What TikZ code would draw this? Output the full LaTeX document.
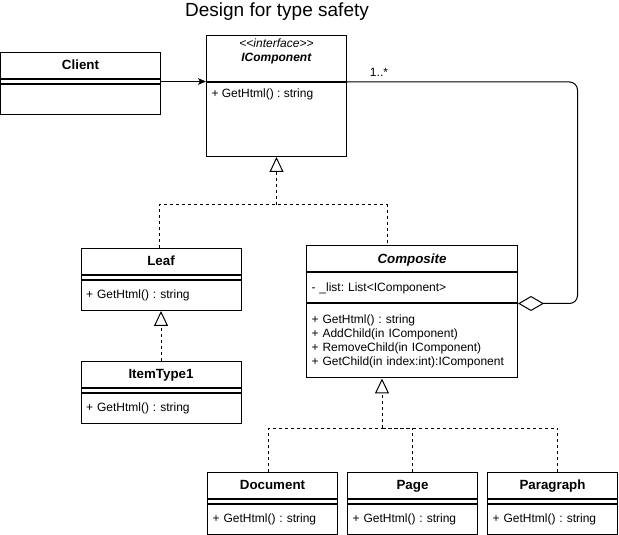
\documentclass[tikz,border=0pt]{standalone}
\usepackage{fontspec}
\setmainfont{Liberation Sans}
\usetikzlibrary{arrows.meta}
\newdimen\pxu \pxu=0.75pt
\frenchspacing

\begin{document}
\begin{tikzpicture}[x=\pxu,y=-\pxu,line width=\pxu,font=\fontsize{9}{10.5}\selectfont,
hd/.style={draw,anchor=north west,minimum width=#1\pxu,minimum height=26\pxu,inner sep=0pt,font=\bfseries,
  text height=7.5pt,text depth=1pt},
gp/.style={draw,anchor=north west,minimum width=#1\pxu,minimum height=4\pxu,inner sep=0pt},
bd/.style={draw,anchor=north west,minimum width=#1\pxu,minimum height=30\pxu,inner xsep=5\pxu,inner ysep=0pt,
  text width=(#1-10)*0.75pt,align=left},
dsh/.style={dash pattern=on 2.25pt off 2.25pt},
real/.style={dsh,-{Triangle[open,length=11.25pt,width=10.5pt]}},
agg/.style={rounded corners=6pt,-{Diamond[open,length=19.5pt,width=11.25pt]}}]
\useasboundingbox (0,0) rectangle (619,535);
\node[font=\fontsize{14.25}{16}\selectfont] (title) at (277,12) {Design for type safety};
\node[hd=160] (cln) at (0,52) {Client};
\node[gp=160] (clg) at (cln.south west) {};
\node[bd=160] (clb) at (clg.south west) {};
\node[draw,anchor=north west,minimum width=140\pxu,minimum height=46\pxu,inner sep=0pt] (icn) at (206,35) {};
\node[anchor=north,align=center,inner sep=0pt] (ict) at ([yshift=-3\pxu]icn.north)
  {\textit{<{}<interface>{}>}\\\textbf{\textit{IComponent}}};
\node[draw,anchor=north west,minimum width=140\pxu,minimum height=74\pxu,inner sep=0pt] (icb) at (icn.south west) {};
\node[anchor=north west,inner sep=0pt] (icm) at ([xshift=5\pxu,yshift=-6\pxu]icb.north west) {+ GetHtml() : string};
\node[hd=160] (lfn) at (80.5,248) {Leaf};
\node[gp=160] (lfg) at (lfn.south west) {};
\node[bd=160] (lfb) at (lfg.south west) {+ GetHtml() : string};
\node[hd=160] (itn) at (80.5,361) {ItemType1};
\node[gp=160] (itg) at (itn.south west) {};
\node[bd=160] (itb) at (itg.south west) {+ GetHtml() : string};
\node[hd=211,font=\bfseries\itshape] (cpn) at (306,245.5) {Composite};
\node[bd=211] (cpa) at (cpn.south west) {- \_list: List<IComponent>};
\node[bd=211,minimum height=74\pxu] (cpm) at (cpa.south west)
  {+ GetHtml() : string\\+ AddChild(in IComponent)\\+ RemoveChild(in IComponent)\\+ GetChild(in index:int):IComponent};
\coordinate (j2) at (387,205); \coordinate (j3) at (382,428); \coordinate (c1) at (577.5,0);
\foreach \nm/\x/\id/\dx in {Document/207/doc/-4,Page/347/pg/0,Paragraph/487/par/5}{
\node[hd=130] (\id) at (\x,472) {\nm};
\node[gp=130] (\id-g) at (\id.south west) {};
\node[bd=130] (\id-b) at (\id-g.south west) {+ GetHtml() : string};
\draw[dsh] ([xshift=\dx\pxu]\id.north) |- (j3);}
\draw[-{Stealth[length=6pt,width=5pt,inset=1.5pt]}] (clg.east) -- (clg.east -| icn.west);
\draw[dsh] ([xshift=-2\pxu]lfn.north) |- (j2) -- (j2 |- cpn.north);
\draw[real] (icb.south |- j2) -- (icb.south);
\draw[real] (itn.north) -- (lfb.south);
\draw[real] (j3) -- (j3 |- cpm.south);
\draw[agg] (icn.south east) -- (icn.south east -| c1) |- (cpa.south east);
\node (mul) at (379,72) {1..*};
\end{tikzpicture}
\end{document}
